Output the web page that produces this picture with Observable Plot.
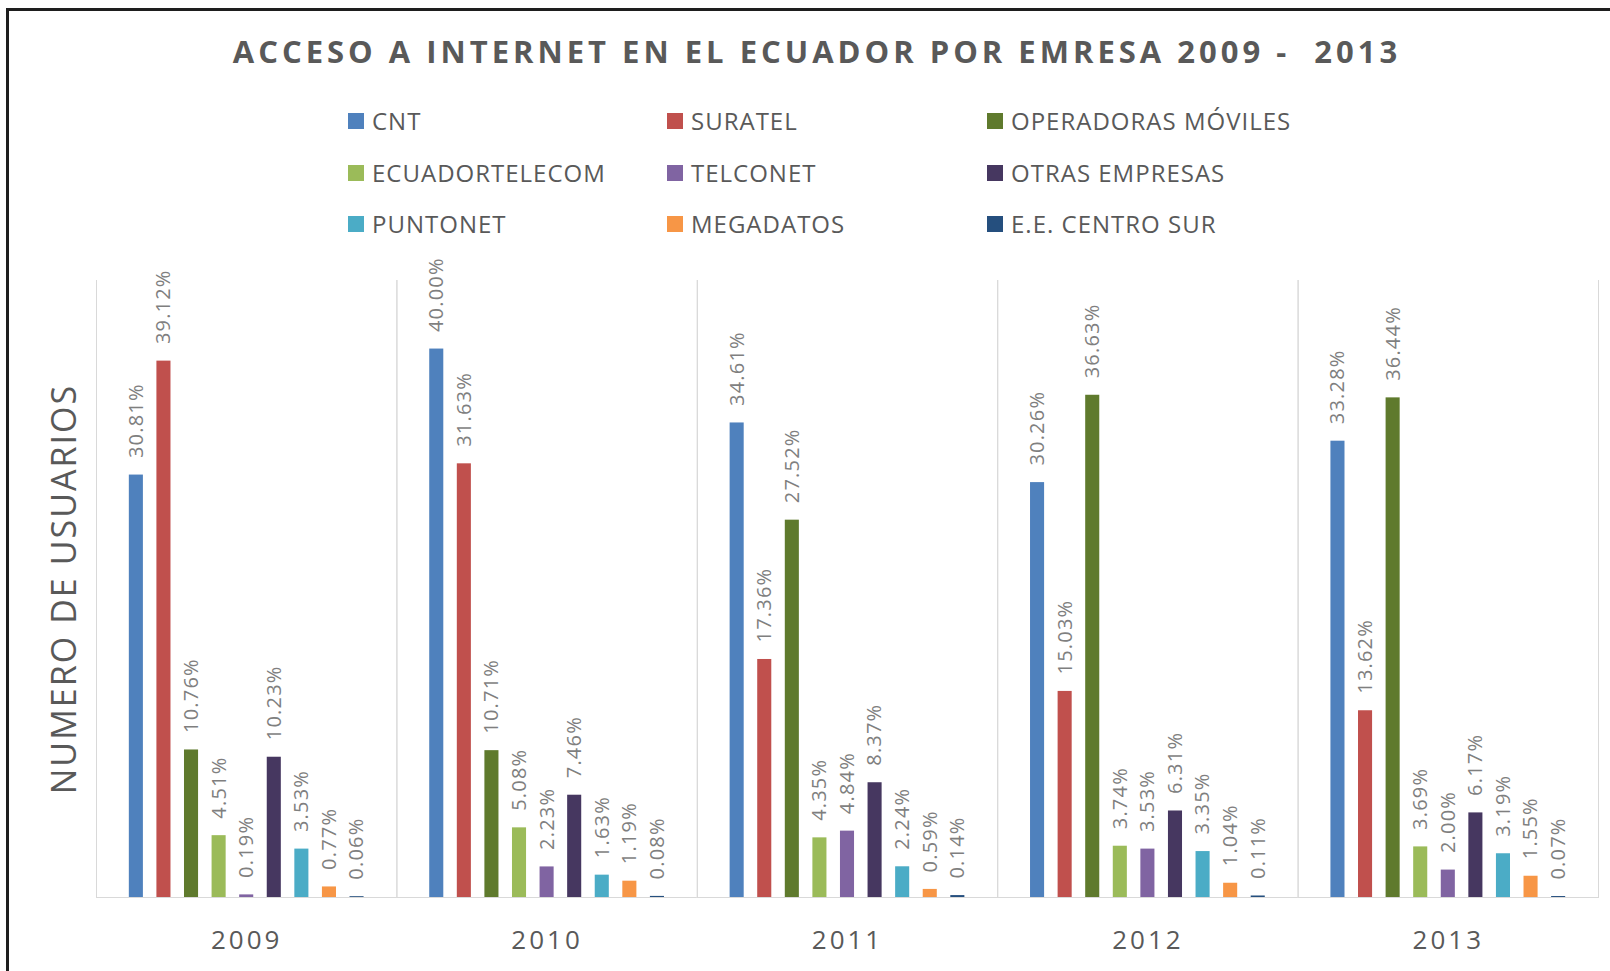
<!DOCTYPE html>
<html><head><meta charset="utf-8">
<script src="https://cdn.jsdelivr.net/npm/d3@7"></script>
<script src="https://cdn.jsdelivr.net/npm/@observablehq/plot@0.6"></script>
<style>
html,body{margin:0;padding:0;background:#fff;overflow:hidden;}
#wrap{position:relative;width:1610px;height:971px;font-family:"Open Sans",sans-serif;overflow:hidden;}
#border{position:absolute;left:6px;top:8px;right:-20px;bottom:-20px;border-left:3px solid #1e1e1e;border-top:3px solid #1e1e1e;}
#header{position:relative;height:230px;}
#title{position:absolute;left:817px;top:36px;transform:translateX(-50%);white-space:pre;font-size:31px;font-weight:700;letter-spacing:4px;color:#595959;line-height:1;}
.item{position:absolute;display:flex;align-items:center;height:24px;gap:8px;font-size:24px;line-height:24px;color:#595959;letter-spacing:1px;white-space:nowrap;}
.sw{width:16px;height:16px;flex:none;}
#chart{position:relative;}
g[aria-label="fx-axis tick label"] text{letter-spacing:3px;}
g[aria-label="text"] text{letter-spacing:0.06em;}
</style></head>
<body>
<div id="wrap">
  <div id="border"></div>
  <div id="header">
    <div id="title"></div>
  </div>
  <div id="chart"></div>
</div>
<script>
const title = "ACCESO A INTERNET EN EL ECUADOR POR EMRESA 2009 -  2013";
const yLabel = "NUMERO DE USUARIOS";
const years = ["2009", "2010", "2011", "2012", "2013"];
const companies = ["CNT", "SURATEL", "OPERADORAS MÓVILES", "ECUADORTELECOM", "TELCONET", "OTRAS EMPRESAS", "PUNTONET", "MEGADATOS", "E.E. CENTRO SUR"];
const colors = ["#4f81bd", "#c0504d", "#5f7a2d", "#9bbb59", "#8064a2", "#463760", "#4bacc6", "#f79646", "#254f7e"];
const v2009 = [30.81, 39.12, 10.76, 4.51, 0.19, 10.23, 3.53, 0.77, 0.06];
const v2010 = [40.00, 31.63, 10.71, 5.08, 2.23, 7.46, 1.63, 1.19, 0.08];
const v2011 = [34.61, 17.36, 27.52, 4.35, 4.84, 8.37, 2.24, 0.59, 0.14];
const v2012 = [30.26, 15.03, 36.63, 3.74, 3.53, 6.31, 3.35, 1.04, 0.11];
const v2013 = [33.28, 13.62, 36.44, 3.69, 2.00, 6.17, 3.19, 1.55, 0.07];
const series = [v2009, v2010, v2011, v2012, v2013];

const data = [];
years.forEach((yr, i) => companies.forEach((c, j) => data.push({year: yr, company: c, value: series[i][j]})));

document.getElementById("title").textContent = title;

// legend
const header = document.getElementById("header");
const colX = [348, 667, 987];
const rowY = [109, 160.5, 212];
companies.forEach((c, i) => {
  const it = document.createElement("div");
  it.className = "item";
  it.style.left = colX[i % 3] + "px";
  it.style.top = rowY[Math.floor(i / 3)] + "px";
  const sw = document.createElement("span");
  sw.className = "sw";
  sw.style.background = colors[i];
  const tx = document.createElement("span");
  tx.textContent = c;
  it.appendChild(sw); it.appendChild(tx);
  header.appendChild(it);
});

const chart = Plot.plot({
  width: 1610, height: 741,
  marginTop: 50, marginBottom: 74, marginLeft: 96, marginRight: 12,
  style: {fontFamily: '"Open Sans", sans-serif', background: "transparent", color: "#595959"},
  fx: {domain: years, padding: 0, label: null, round: false},
  x: {domain: companies, paddingInner: 0.49, paddingOuter: 1.19, axis: null, round: false},
  y: {domain: [0, 45], axis: null},
  color: {domain: companies, range: colors},
  marks: [
    Plot.frame({anchor: "left", stroke: "#d9d9d9"}),
    Plot.frame({anchor: "right", stroke: "#d9d9d9"}),
    Plot.ruleY([0], {stroke: "#d9d9d9"}),
    Plot.barY(data, {fx: "year", x: "company", y: "value", fill: "company"}),
    Plot.text(data, {fx: "year", x: "company", y: "value", text: d => d.value.toFixed(2) + "%", rotate: -90, textAnchor: "start", dy: -17, fontSize: 20, fill: "#7f7f7f"}),
    Plot.text([yLabel], {fx: () => years[0], text: d => d, frameAnchor: "left", textAnchor: "middle", rotate: -90, dx: -31, fontSize: 34, fill: "#595959"}),
    Plot.axisFx({anchor: "bottom", tickSize: 0, tickPadding: 33, fontSize: 26, label: null, color: "#595959"})
  ]
});
document.getElementById("chart").appendChild(chart);
</script>
</body></html>
